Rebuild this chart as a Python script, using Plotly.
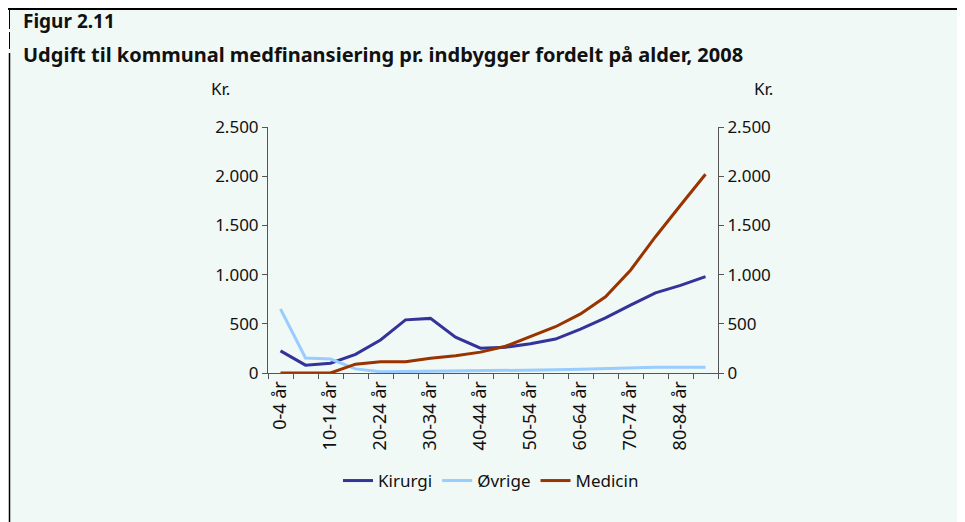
import plotly.graph_objects as go

categories = ["0-4 år", "5-9 år", "10-14 år", "15-19 år", "20-24 år", "25-29 år",
              "30-34 år", "35-39 år", "40-44 år", "45-49 år", "50-54 år", "55-59 år",
              "60-64 år", "65-69 år", "70-74 år", "75-79 år", "80-84 år", "85+ år"]
kirurgi = [225, 80, 100, 190, 335, 540, 555, 365, 252, 262, 298, 345, 445, 560, 690, 815, 890, 980]
ovrige = [650, 152, 142, 42, 12, 15, 15, 15, 18, 22, 28, 32, 38, 45, 55, 58, 58, 58]
medicin = [0, 0, 0, 90, 115, 115, 150, 175, 212, 272, 370, 470, 600, 775, 1045, 1385, 1705, 2020]
series_names = ["Kirurgi", "Øvrige", "Medicin"]
series_colors = ["#333399", "#99ccff", "#993300"]
y_ticks = [0, 500, 1000, 1500, 2000, 2500]
tick_text = [c if i % 2 == 0 else "" for i, c in enumerate(categories)]

FONT = "Noto Sans"
OX, OY = 8, 8           # page body margin
PW, PH = 965, 522       # page size
W, H = PW - OX, PH - OY  # figure size
L, R, T, B = 268, 718, 127, 373  # plot area in page pixels
pw, ph = R - L, B - T

def px(x):
    return (x - L) / pw

def py(y):
    return (B - y) / ph

fig = go.Figure()
for name, vals, col in zip(series_names, [kirurgi, ovrige, medicin], series_colors):
    fig.add_trace(go.Scatter(x=categories, y=vals, name=name, mode="lines",
                             line=dict(color=col, width=3)))

mint = "#f1f9f6"
shapes = [
    dict(type="rect", xref="paper", yref="paper", x0=px(9), x1=px(PW), y0=py(PH), y1=py(9),
         fillcolor=mint, line=dict(width=0), layer="below"),
    dict(type="line", xref="paper", yref="paper", x0=px(OX), x1=px(PW), y0=py(9), y1=py(9),
         line=dict(color="#000000", width=2)),
    dict(type="line", xref="paper", yref="paper", x0=px(9.5), x1=px(9.5), y0=py(10), y1=py(29),
         line=dict(color="#000000", width=1)),
    dict(type="line", xref="paper", yref="paper", x0=px(9.5), x1=px(9.5), y0=py(32), y1=py(49),
         line=dict(color="#000000", width=1)),
    dict(type="line", xref="paper", yref="paper", x0=px(9.5), x1=px(9.5), y0=py(53), y1=py(PH),
         line=dict(color="#000000", width=1.5)),
]

annotations = [
    dict(text="<b>Figur 2.11</b>", xref="paper", yref="paper", x=px(21), y=py(21),
         xanchor="left", yanchor="middle", showarrow=False,
         font=dict(family=FONT, size=19, color="#111111")),
    dict(text="<b>Udgift til kommunal medfinansiering pr. indbygger fordelt på alder, 2008</b>",
         xref="paper", yref="paper", x=px(21), y=py(55), xanchor="left", yanchor="middle",
         showarrow=False, font=dict(family=FONT, size=20, color="#111111")),
    dict(text="Kr.", xref="paper", yref="paper", x=px(220), y=py(89), xanchor="center",
         yanchor="middle", showarrow=False, font=dict(family=FONT, size=17, color="#111111")),
    dict(text="Kr.", xref="paper", yref="paper", x=px(763), y=py(89), xanchor="center",
         yanchor="middle", showarrow=False, font=dict(family=FONT, size=17, color="#111111")),
]

axis_common = dict(range=[0, 2500], tickvals=y_ticks, tickformat=",d", showgrid=False,
                   zeroline=False, showline=True, linecolor="#555555", linewidth=1,
                   ticks="outside", ticklen=5, tickcolor="#555555",
                   tickfont=dict(family=FONT, size=17, color="#111111"), fixedrange=True)

fig.update_layout(
    width=W, height=H,
    margin=dict(l=L - OX, r=PW - R, t=T - OY, b=PH - B),
    paper_bgcolor="#ffffff", plot_bgcolor="rgba(0,0,0,0)",
    separators=",.",
    shapes=shapes, annotations=annotations,
    showlegend=True,
    legend=dict(orientation="h", x=px(491), xanchor="center", y=py(481), yanchor="middle",
                font=dict(family=FONT, size=17, color="#111111"), bgcolor="rgba(0,0,0,0)",
                itemwidth=30, tracegroupgap=0),
    xaxis=dict(type="category", tickvals=categories, ticktext=tick_text, tickangle=-90,
               tickson="boundaries", ticks="outside", ticklen=5, tickcolor="#555555",
               showline=True, linecolor="#555555", linewidth=1, showgrid=False,
               range=[-0.5, len(categories) - 0.5],
               tickfont=dict(family=FONT, size=18, color="#111111")),
    yaxis=dict(side="left", **axis_common),
    yaxis2=dict(side="right", overlaying="y", matches="y", **axis_common),
)
fig.add_trace(go.Scatter(x=categories, y=medicin, yaxis="y2", mode="lines",
                         line=dict(color="rgba(0,0,0,0)", width=0), showlegend=False,
                         hoverinfo="skip"))

fig.write_html("out.html")
